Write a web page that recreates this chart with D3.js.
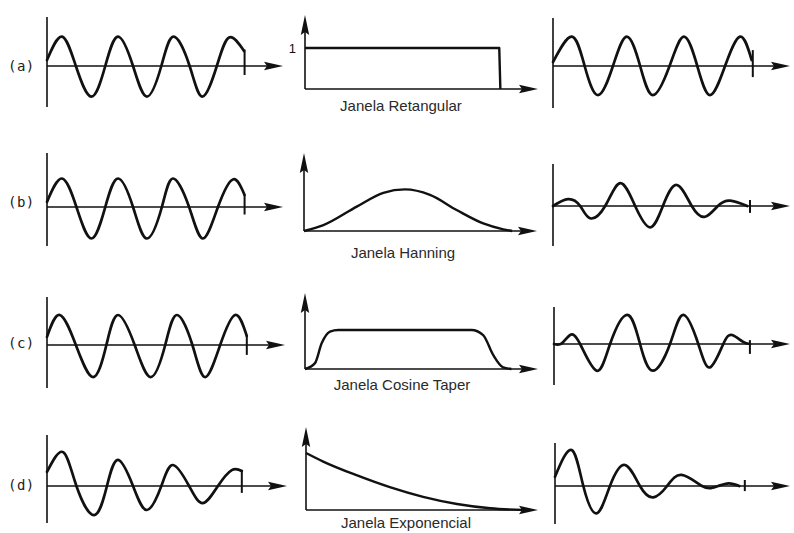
<!DOCTYPE html>
<html><head><meta charset="utf-8">
<script src="https://cdn.jsdelivr.net/npm/d3@7"></script>
<style>html,body{margin:0;padding:0;background:#fff;}svg{display:block;}</style>
</head><body>
<svg id="c" width="794" height="533"></svg>
<script>
// ---------- DATA (t in signal periods, v in relative amplitude) ----------
const rowLabels = ["(a)", "(b)", "(c)", "(d)"];
const windowNames = ["Janela Retangular", "Janela Hanning", "Janela Cosine Taper", "Janela Exponencial"];
const rectLevelLabel = "1";

// input signals (left column)
const inputA = [[0,0.2],[0.27,0.98],[0.52,0],[0.8,-1.02],[1.05,0],[1.28,0.98],[1.55,0],[1.8,-1.02],[2.06,0],[2.28,0.98],[2.57,0],[2.8,-1.02],[3.06,0],[3.28,0.95],[3.55,0.5]];
const inputB = [[0,0.17],[0.27,0.95],[0.53,0],[0.8,-1.05],[1.05,0],[1.28,0.95],[1.55,0],[1.8,-1.05],[2.07,0],[2.27,0.95],[2.56,0],[2.81,-1.05],[3.08,0],[3.35,0.92],[3.56,0.4]];
const inputC = [[0,0.27],[0.23,1.0],[0.52,0],[0.83,-1.07],[1.07,0],[1.28,1.0],[1.58,0],[1.87,-1.07],[2.13,0],[2.34,1.0],[2.62,0],[2.85,-1.07],[3.12,0],[3.39,1.0],[3.6,0.3]];
const inputD = [[0,0.47],[0.29,1.13],[0.53,0],[0.85,-0.97],[1.08,0],[1.28,0.87],[1.55,0],[1.8,-0.8],[2.06,0],[2.27,0.7],[2.56,0],[2.81,-0.57],[3.08,0],[3.33,0.53],[3.51,0.5]];

// windows (middle column)
const windowA = [[0,1],[3.5,1],[3.52,0]];
const windowB = [[0,0],[0.35,0.14],[0.95,0.58],[1.43,0.91],[1.82,0.99],[2.27,0.86],[2.75,0.5],[3.23,0.18],[3.59,0.04],[3.75,0]];
const windowC = [[0,0],[0.18,0.15],[0.3,0.66],[0.45,0.96],[0.6,1],[3.0,1],[3.21,0.87],[3.39,0.36],[3.57,0.04],[3.72,0]];
const windowD = [[0,1],[0.31,0.85],[0.91,0.61],[1.51,0.4],[2.11,0.23],[2.72,0.105],[3.32,0.03],[3.92,0]];

// windowed outputs (right column)
const outputA = [[0,0.13],[0.34,0.98],[0.57,0],[0.81,-0.97],[1.08,0],[1.33,0.98],[1.57,0],[1.8,-0.97],[2.1,0],[2.36,0.98],[2.6,0],[2.83,-0.97],[3.1,0],[3.37,0.98],[3.58,0.2]];
const outputB = [[0,0],[0.27,0.23],[0.49,0],[0.67,-0.41],[0.94,0],[1.21,0.76],[1.48,0],[1.75,-0.71],[1.98,0],[2.23,0.7],[2.5,0],[2.74,-0.36],[2.97,0],[3.19,0.18],[3.5,0]];
const outputC = [[0,0],[0.14,0.02],[0.29,0.3],[0.47,0],[0.77,-0.89],[1.01,0],[1.32,0.97],[1.55,0],[1.78,-0.89],[2.09,0],[2.33,0.97],[2.6,0],[2.81,-0.78],[3.05,0],[3.21,0.3],[3.4,0.08],[3.53,0]];
const outputD = [[0,0.31],[0.3,1.2],[0.51,0],[0.75,-0.91],[0.99,0],[1.26,0.7],[1.53,0],[1.77,-0.38],[2.02,0],[2.28,0.37],[2.65,0],[2.83,-0.06],[2.94,0],[3.13,0.09],[3.32,0]];

// end-of-record ticks: [t, vTop, vBottom]
const inputTicks  = [[3.56,0.55,-0.3],[3.56,0.4,-0.25],[3.6,0.33,-0.33],[3.51,0.53,-0.23]];
const outputTicks = [[3.6,0.53,-0.37],[3.55,0.2,-0.23],[3.53,0.13,-0.33],[3.42,0.2,-0.17]];

const inputs = [inputA, inputB, inputC, inputD];
const windows = [windowA, windowB, windowC, windowD];
const outputs = [outputA, outputB, outputC, outputD];

// ---------- LAYOUT ----------
const pxPerUnit = 55.5;
const L = {x0:[47,47,47,47], axisEnd:[283,283,285,287], y0:[66,207,345,486], yTop:[17,153,297,435], yBot:[107,246,388,523], amp:30};
const M = {x0:[305,304,305,306], axisEnd:[538,537,538,538], y0:[89,231,369,510], yTop:[15,153,293,427], amp:[41,42,39,57]};
const R = {x0:[553,553,554,555], axisEnd:[790,790,790,790], y0:[66,206,344,486], yTop:[18,164,307,443], yBot:[108,246,385,524], amp:30};
const rowLabelY = [66,202,343,485];
const winLabel = {x:[401,403,402,406], y:[111,258,390,528]};

const ink = "#111";
const svg = d3.select("#c");

function arrowRight(g, tipX, y) {
  const len = 19, hw = 4.2;
  g.append("path").attr("d", `M${tipX},${y} L${tipX-len},${y-hw} L${tipX-len+3},${y} L${tipX-len},${y+hw} Z`).attr("fill", ink);
}
function arrowUp(g, x, tipY) {
  const len = 20, hw = 4.2;
  g.append("path").attr("d", `M${x},${tipY} L${x-hw},${tipY+len} L${x},${tipY+len-3} L${x+hw},${tipY+len} Z`).attr("fill", ink);
}

function signalPanel(g, cfg, i, data, tick) {
  const x = d3.scaleLinear().domain([0, (cfg.axisEnd[i]-cfg.x0[i])/pxPerUnit]).range([cfg.x0[i], cfg.axisEnd[i]]);
  const y = d3.scaleLinear().domain([-1, 1]).range([cfg.y0[i]+cfg.amp, cfg.y0[i]-cfg.amp]);
  g.append("line").attr("x1", x(0)).attr("x2", x(0)).attr("y1", cfg.yTop[i]).attr("y2", cfg.yBot[i])
    .attr("stroke", ink).attr("stroke-width", 1.6);
  g.append("line").attr("x1", x(0)).attr("x2", x.range()[1]-8).attr("y1", y(0)).attr("y2", y(0))
    .attr("stroke", ink).attr("stroke-width", 1.6);
  arrowRight(g, x.range()[1], y(0));
  const line = d3.line().x(d => x(d[0])).y(d => y(d[1])).curve(d3.curveNatural);
  g.append("path").attr("d", line(data)).attr("fill", "none").attr("stroke", ink)
    .attr("stroke-width", 2.7).attr("stroke-linejoin", "round").attr("stroke-linecap", "round");
  g.append("line").attr("x1", x(tick[0])).attr("x2", x(tick[0])).attr("y1", y(tick[1])).attr("y2", y(tick[2]))
    .attr("stroke", ink).attr("stroke-width", 2);
}

function windowPanel(g, i, data) {
  const x = d3.scaleLinear().domain([0, (M.axisEnd[i]-M.x0[i])/pxPerUnit]).range([M.x0[i], M.axisEnd[i]]);
  const y = d3.scaleLinear().domain([0, 1]).range([M.y0[i], M.y0[i]-M.amp[i]]);
  g.append("line").attr("x1", x(0)).attr("x2", x(0)).attr("y1", y(0)).attr("y2", M.yTop[i]+8)
    .attr("stroke", ink).attr("stroke-width", 1.6);
  arrowUp(g, x(0), M.yTop[i]);
  g.append("line").attr("x1", x(0)).attr("x2", x.range()[1]-8).attr("y1", y(0)).attr("y2", y(0))
    .attr("stroke", ink).attr("stroke-width", 1.6);
  arrowRight(g, x.range()[1], y(0));
  const curve = i === 0 ? d3.curveLinear : d3.curveMonotoneX;
  const line = d3.line().x(d => x(d[0])).y(d => y(d[1])).curve(curve);
  g.append("path").attr("d", line(data)).attr("fill", "none").attr("stroke", ink)
    .attr("stroke-width", 2.4).attr("stroke-linejoin", "round");
  g.append("text").attr("x", winLabel.x[i]).attr("y", winLabel.y[i]).attr("text-anchor", "middle")
    .attr("font-family", "Liberation Sans, Arial, sans-serif").attr("font-size", 15).attr("fill", "#2a2a2a")
    .text(windowNames[i]);
  if (i === 0) {
    g.append("text").attr("x", x(0)-9).attr("y", y(1)).attr("dy", "0.36em").attr("text-anchor", "end")
      .attr("font-family", "Liberation Sans, Arial, sans-serif").attr("font-size", 13).attr("fill", ink)
      .text(rectLevelLabel);
  }
}

rowLabels.forEach((lab, i) => {
  const g = svg.append("g");
  g.append("text").attr("x", 8).attr("y", rowLabelY[i]).attr("dy", "0.35em")
    .attr("font-family", "DejaVu Sans Mono, Liberation Mono, monospace").attr("font-size", 14)
    .attr("fill", "#222").attr("letter-spacing", 0.5).text(lab);
  signalPanel(g, L, i, inputs[i], inputTicks[i]);
  windowPanel(g, i, windows[i]);
  signalPanel(g, R, i, outputs[i], outputTicks[i]);
});
</script>
</body></html>
